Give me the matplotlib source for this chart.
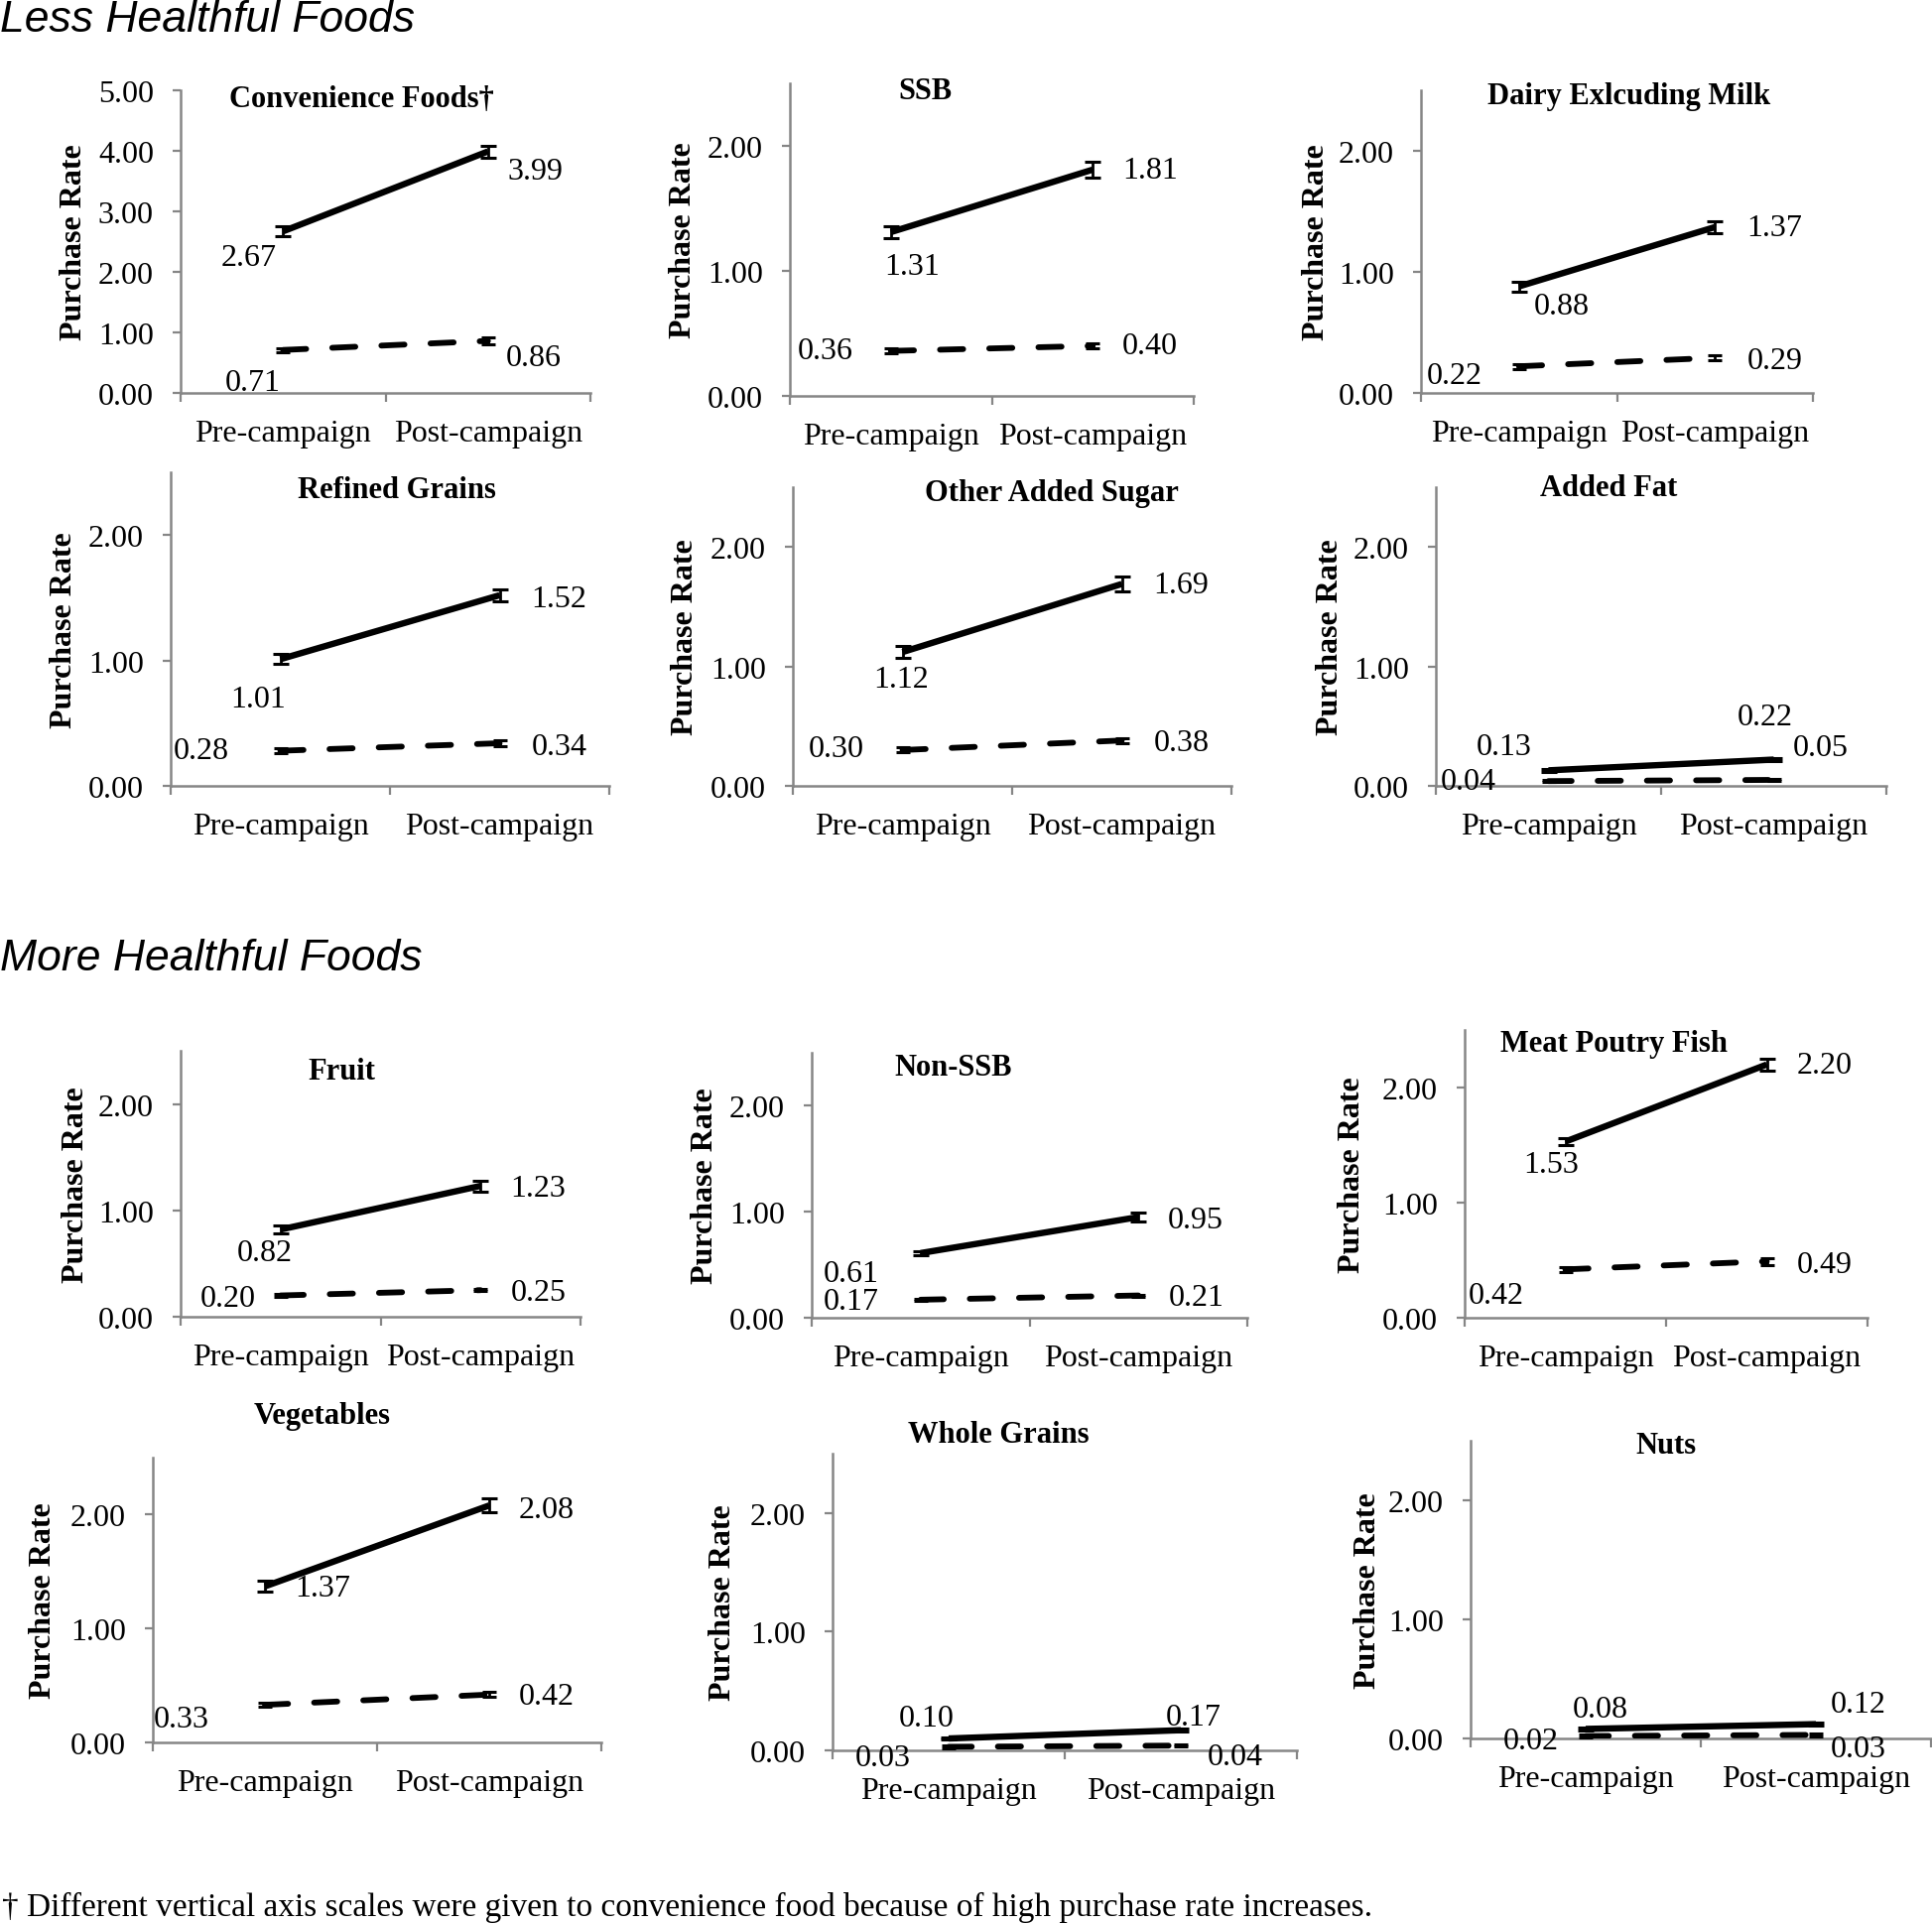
import numpy as np
import matplotlib
matplotlib.use("Agg")
import matplotlib.pyplot as plt
from matplotlib.ticker import FormatStrFormatter

plt.rcParams["font.family"] = ["Liberation Serif", "DejaVu Serif"]
plt.rcParams["font.size"] = 23

W, H = 1947, 1940

# data: purchase rates, solid = upper series, dashed = lower series
foods = ["Convenience Foods†", "SSB", "Dairy Exlcuding Milk", "Refined Grains",
         "Other Added Sugar", "Added Fat", "Fruit", "Non-SSB", "Meat Poutry Fish",
         "Vegetables", "Whole Grains", "Nuts"]
periods = ["Pre-campaign", "Post-campaign"]
solid_pre = [2.67, 1.31, 0.88, 1.01, 1.12, 0.13, 0.82, 0.61, 1.53, 1.37, 0.10, 0.08]
solid_post = [3.99, 1.81, 1.37, 1.52, 1.69, 0.22, 1.23, 0.95, 2.20, 2.08, 0.17, 0.12]
dashed_pre = [0.71, 0.36, 0.22, 0.28, 0.30, 0.04, 0.20, 0.17, 0.42, 0.33, 0.03, 0.02]
dashed_post = [0.86, 0.40, 0.29, 0.34, 0.38, 0.05, 0.25, 0.21, 0.49, 0.42, 0.04, 0.03]
solid_pre_err = [0.08, 0.05, 0.04, 0.04, 0.05, 0.01, 0.04, 0.02, 0.03, 0.05, 0.01, 0.01]
solid_post_err = [0.10, 0.06, 0.05, 0.05, 0.06, 0.01, 0.05, 0.04, 0.05, 0.06, 0.01, 0.01]
dashed_pre_err = [0.03, 0.02, 0.02, 0.02, 0.02, 0.01, 0.01, 0.01, 0.02, 0.02, 0.01, 0.01]
dashed_post_err = [0.05, 0.02, 0.02, 0.02, 0.02, 0.01, 0.01, 0.01, 0.03, 0.02, 0.01, 0.01]
y_max = [5, 2.5, 2.5, 2.5, 2.5, 2.5, 2.5, 2.5, 2.5, 2.5, 2.5, 2.5]

# layout in image pixels: axes left, right, y of zero, y of top
boxes = [(182, 595, 397, 92), (796, 1203, 400, 85), (1432, 1827, 397, 92),
         (172, 614, 793, 477), (799, 1241, 793, 492), (1447, 1901, 793, 492),
         (182, 585, 1328, 1060), (818, 1257, 1329, 1062), (1476, 1882, 1329, 1039),
         (154, 606, 1757, 1470), (839, 1307, 1765, 1466), (1482, 1946, 1753, 1453)]
title_xy = [(364, 100), (932, 93), (1642, 98), (400, 495), (1060, 497), (1621, 492),
            (344, 1080), (961, 1076), (1627, 1053), (325, 1428), (1006, 1447), (1679, 1458)]
ylab_x = [75, 689, 1326, 64, 691, 1341, 77, 710, 1362, 44, 729, 1379]
# label offsets (dx right, dy down) in pixels: solid pre, solid post, dashed pre, dashed post
offsets = [
    [(-35, 26), (48, 20), (-31, 33), (46, 17)],
    [(21, 35), (58, 1), (-66, 0), (58, 0)],
    [(43, 20), (60, 1), (-65, 9), (60, 3)],
    [(-22, 40), (60, 4), (-80, 0), (60, 3)],
    [(-1, 27), (60, 1), (-67, -1), (60, 2)],
    [(-45, -24), (-9, -43), (-81, 0), (47, -32)],
    [(-16, 23), (58, 2), (-53, 3), (58, 2)],
    [(-70, 21), (58, 3), (-70, 2), (58, 2)],
    [(-14, 23), (58, 1), (-70, 26), (58, 3)],
    [(58, 2), (58, 4), (-84, 14), (58, 2)],
    [(-22, -21), (13, -13), (-66, 11), (55, 11)],
    [(15, -20), (43, -20), (-55, 5), (43, 14)],
]

fig = plt.figure(figsize=(W / 100, H / 100), dpi=100)
axis_grey = "#868686"
xs = [0.5, 1.5]

for i, name in enumerate(foods):
    l, r, y0, yt = boxes[i]
    ax = fig.add_axes([l / W, 1 - y0 / H, (r - l) / W, (y0 - yt) / H])
    sp = [solid_pre[i], solid_post[i]]
    dp = [dashed_pre[i], dashed_post[i]]
    ax.errorbar(xs, dp, yerr=[dashed_pre_err[i], dashed_post_err[i]], color="black",
                lw=4.2, ls=(0, (4, 4.5)), dash_capstyle="round", elinewidth=2,
                capsize=5, capthick=2.2, zorder=3)
    ax.errorbar(xs, sp, yerr=[solid_pre_err[i], solid_post_err[i]], color="black",
                lw=4.6, solid_capstyle="butt", elinewidth=2, capsize=6,
                capthick=2.2, zorder=4)
    vals = sp + dp
    pts = [(xs[0], sp[0]), (xs[1], sp[1]), (xs[0], dp[0]), (xs[1], dp[1])]
    for (px, py), v, (dx, dy) in zip(pts, vals, offsets[i]):
        ax.annotate(f"{v:.2f}", (px, py), xytext=(dx, -dy), textcoords="offset pixels",
                    ha="center", va="center", fontsize=23, annotation_clip=False)

    ax.set_xlim(0, 2)
    ax.set_ylim(0, y_max[i])
    ax.set_yticks(np.arange(0, y_max[i] + 0.01, 1.0))
    ax.yaxis.set_major_formatter(FormatStrFormatter("%.2f"))
    ax.set_xticks([0, 1, 2])
    ax.set_xticklabels([])
    ax.set_xticks(xs, labels=periods, minor=True)
    ax.tick_params(axis="x", which="major", length=6.5, width=1.6, color=axis_grey)
    ax.tick_params(axis="x", which="minor", length=0, pad=19, labelsize=23)
    ax.tick_params(axis="y", length=5.5, width=1.6, color=axis_grey, pad=14, labelsize=23)
    for s in ["top", "right"]:
        ax.spines[s].set_visible(False)
    for s in ["left", "bottom"]:
        ax.spines[s].set_color(axis_grey)
        ax.spines[s].set_linewidth(1.8)
    ax.patch.set_alpha(0)

    ax.set_ylabel("Purchase Rate", fontweight="bold", fontsize=23, va="center")
    ax.yaxis.set_label_coords((ylab_x[i] - l) / (r - l), 0.5)

    tx, ty = title_xy[i]
    fig.text(tx / W, 1 - ty / H, name, ha="center", va="center",
             fontsize=22, fontweight="bold")

fig.text(0, 1 - 21 / H, "Less Healthful Foods", ha="left", va="center",
         fontsize=32, style="italic", family=["Liberation Sans", "DejaVu Sans"])
fig.text(0, 1 - 967 / H, "More Healthful Foods", ha="left", va="center",
         fontsize=32, style="italic", family=["Liberation Sans", "DejaVu Sans"])
fig.text(2 / W, 1 - 1922 / H,
         "† Different vertical axis scales were given to convenience food because of high purchase rate increases.",
         ha="left", va="center", fontsize=24)

fig.savefig("out.png", dpi=100)
